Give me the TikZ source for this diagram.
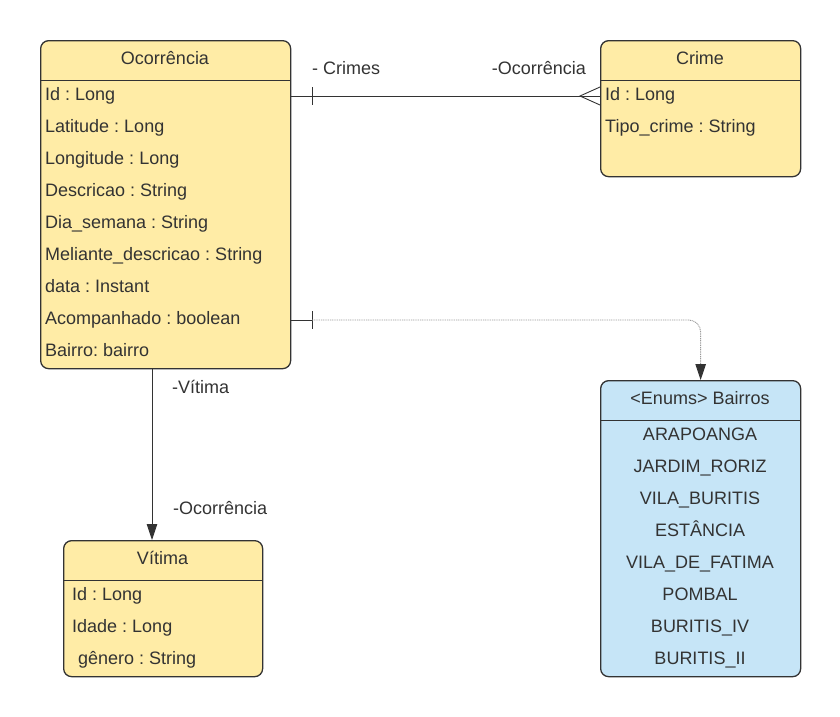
\documentclass[tikz,border=0pt]{standalone}
\usepackage{fontspec}
\setmainfont{Liberation Sans}
\frenchspacing
\usetikzlibrary{arrows.meta}
\definecolor{ink}{HTML}{333333}
\definecolor{entyellow}{HTML}{FFECA6}
\definecolor{entblue}{HTML}{C6E5F7}
\definecolor{dotgray}{HTML}{9A9A9A}
\begin{document}
\begin{tikzpicture}[x=1pt,y=-1pt,
  every node/.style={text=ink,font=\fontsize{18}{22}\selectfont,inner sep=0pt},
  entity/.style={draw=ink,line width=1.3pt,rounded corners=8pt,anchor=north west},
  yellowent/.style={entity,fill=entyellow},
  blueent/.style={entity,fill=entblue},
  rowtxt/.style={anchor=base west},
  rowmid/.style={anchor=base},
  divider/.style={draw=ink,line width=1.1pt},
  conn/.style={draw=ink,line width=0.9pt},
  dotconn/.style={draw=dotgray,line width=0.9pt,dash pattern=on 1pt off 0.8pt},
  tip/.style={-{Triangle[length=16pt,width=10.5pt,color=ink]}}
]
\useasboundingbox (0,0) rectangle (840,716);

% Ocorrência
\node[yellowent,minimum width=250pt,minimum height=328pt] (oc) at (40,40) {};
\draw[divider] (oc.west |- 0,80.7) -- (oc.east |- 0,80.7);
\node[rowmid] (octitle) at (165,64) {Ocorrência};
\node[rowtxt] (oc1) at (45,100) {Id : Long};
\node[rowtxt] (oc2) at (45,132) {Latitude : Long};
\node[rowtxt] (oc3) at (45,164) {Longitude : Long};
\node[rowtxt] (oc4) at (45,196) {Descricao : String};
\node[rowtxt] (oc5) at (45,228) {Dia\_semana : String};
\node[rowtxt] (oc6) at (45,260) {Meliante\_descricao : String};
\node[rowtxt] (oc7) at (45,292) {data : Instant};
\node[rowtxt] (oc8) at (45,324) {Acompanhado : boolean};
\node[rowtxt] (oc9) at (45,356) {Bairro: bairro};

% Crime
\node[yellowent,minimum width=200pt,minimum height=136pt] (cr) at (600,40) {};
\draw[divider] (cr.west |- 0,80.7) -- (cr.east |- 0,80.7);
\node[rowmid] (crtitle) at (700,64) {Crime};
\node[rowtxt] (cr1) at (605,100) {Id : Long};
\node[rowtxt] (cr2) at (605,132) {Tipo\_crime : String};

% Vítima
\node[yellowent,minimum width=199pt,minimum height=136pt] (vi) at (63,540) {};
\draw[divider] (vi.west |- 0,580.7) -- (vi.east |- 0,580.7);
\node[rowmid] (vititle) at (162.5,564) {Vítima};
\node[rowtxt] (vi1) at (72,600) {Id : Long};
\node[rowtxt] (vi2) at (72,632) {Idade : Long};
\node[rowtxt] (vi3) at (78,664) {gênero : String};

% Bairros enum
\node[blueent,minimum width=200pt,minimum height=296pt] (ba) at (600,380) {};
\draw[divider] (ba.west |- 0,420.7) -- (ba.east |- 0,420.7);
\node[rowmid] (batitle) at (700,404) {<Enums> Bairros};
\node[rowmid] (ba1) at (700,440) {ARAPOANGA};
\node[rowmid] (ba2) at (700,472) {JARDIM\_RORIZ};
\node[rowmid] (ba3) at (700,504) {VILA\_BURITIS};
\node[rowmid] (ba4) at (700,536) {ESTÂNCIA};
\node[rowmid] (ba5) at (700,568) {VILA\_DE\_FATIMA};
\node[rowmid] (ba6) at (700,600) {POMBAL};
\node[rowmid] (ba7) at (700,632) {BURITIS\_IV};
\node[rowmid] (ba8) at (700,664) {BURITIS\_II};

% Ocorrência -- Crime (one to many)
\coordinate (crfoot) at (580,96);
\draw[conn] (oc.east |- 0,96) -- (cr.west |- 0,96);
\draw[conn] (312,87) -- (312,105);
\draw[conn] (cr.west |- 0,87) -- (crfoot) -- (cr.west |- 0,105);
\node[anchor=base west] (lblcrimes) at (312,74) {- Crimes};
\node[anchor=base east] (lbloc1) at (586,74) {-Ocorrência};

% Ocorrência -> Bairros (dotted)
\coordinate (battick) at (312,320);
\draw[conn] (oc.east |- 0,320) -- (battick);
\draw[conn] (312,311) -- (312,329);
\draw[dotconn,tip,rounded corners=12pt] (battick) -- (ba.north |- 0,320) -- (ba.north);

% Ocorrência -> Vítima
\draw[conn,tip] (oc.south -| 152,0) -- (vi.north -| 152,0);
\node[anchor=base west] (lblvit) at (172,393) {-Vítima};
\node[anchor=base west] (lbloc2) at (173,514) {-Ocorrência};
\end{tikzpicture}
\end{document}
